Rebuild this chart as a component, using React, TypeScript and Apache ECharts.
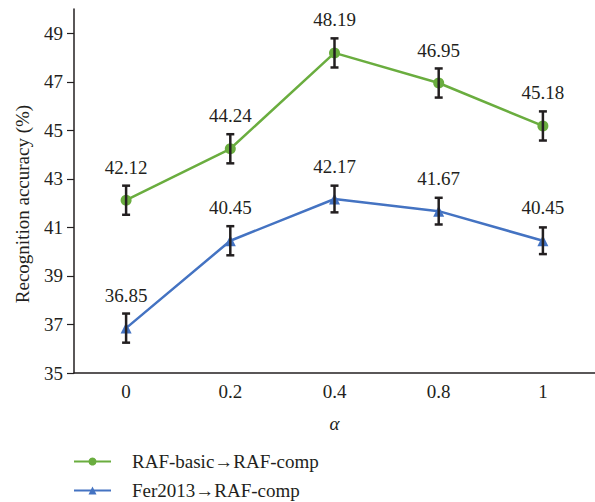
import React, { useEffect, useRef } from "react";
import * as echarts from "echarts";

const categories = ["0", "0.2", "0.4", "0.8", "1"];
const rafBasic = [42.12, 44.24, 48.19, 46.95, 45.18];
const fer2013 = [36.85, 40.45, 42.17, 41.67, 40.45];
const rafBasicErr = [0.6, 0.6, 0.6, 0.6, 0.6];
const fer2013Err = [0.6, 0.6, 0.55, 0.55, 0.55];
const yTicks = [35, 37, 39, 41, 43, 45, 47, 49];
const seriesNames = ["RAF-basic→RAF-comp", "Fer2013→RAF-comp"];
const yTitle = "Recognition accuracy (%)";

const TXT = "#231f20";
const FONT = "'Liberation Serif', serif";

function errData(vals: number[], errs: number[]) {
  return vals.map((v, i) => [i, v - errs[i], v + errs[i]]);
}

function renderErr(params: any, api: any) {
  const x = api.value(0);
  const lo = api.coord([x, api.value(1)]);
  const hi = api.coord([x, api.value(2)]);
  const w = 4;
  const style = { stroke: TXT, lineWidth: 2.5 };
  return {
    type: "group",
    children: [
      { type: "line", shape: { x1: lo[0], y1: lo[1], x2: hi[0], y2: hi[1] }, style },
      { type: "line", shape: { x1: lo[0] - w, y1: lo[1], x2: lo[0] + w, y2: lo[1] }, style },
      { type: "line", shape: { x1: hi[0] - w, y1: hi[1], x2: hi[0] + w, y2: hi[1] }, style },
    ],
  };
}

export default function App() {
  const ref = useRef<HTMLDivElement>(null);
  useEffect(() => {
    const chart = echarts.init(ref.current!, null, { renderer: "svg" });
    const label = {
      show: true,
      position: "top",
      distance: 18,
      color: TXT,
      fontFamily: FONT,
      fontSize: 19,
    };
    chart.setOption({
      animation: false,
      textStyle: { fontFamily: FONT, color: TXT },
      grid: { left: 74, top: 9, right: -7, bottom: 129 },
      graphic: [
        {
          type: "text",
          x: 22,
          y: 204,
          rotation: Math.PI / 2,
          style: {
            text: yTitle,
            fill: TXT,
            font: "19px 'Liberation Serif', serif",
            align: "center",
            verticalAlign: "middle",
          },
        },
      ],
      xAxis: [
        {
          type: "category",
          data: categories,
          boundaryGap: true,
          name: "α",
          nameLocation: "middle",
          nameGap: 41,
          nameTextStyle: { fontFamily: FONT, fontStyle: "italic", fontSize: 19, color: TXT },
          axisLine: { lineStyle: { color: TXT, width: 1.5 } },
          axisTick: { inside: true, length: 7, lineStyle: { color: TXT, width: 1.2 } },
          axisLabel: { color: TXT, fontFamily: FONT, fontSize: 19, margin: 9 },
          splitLine: { show: false },
        },
        {
          type: "category",
          data: categories,
          boundaryGap: true,
          position: "bottom",
          axisLine: { show: false },
          axisTick: { inside: true, length: 7, alignWithLabel: true, lineStyle: { color: TXT, width: 1.2 } },
          axisLabel: { show: false },
          splitLine: { show: false },
        },
      ],
      yAxis: {
        type: "value",
        min: 35,
        max: 50,
        interval: 1,
        axisLine: { show: true, lineStyle: { color: TXT, width: 1.5 } },
        axisTick: { show: true, length: 7, customValues: yTicks, lineStyle: { color: TXT, width: 1.2 } },
        axisLabel: { color: TXT, fontFamily: FONT, fontSize: 19, margin: 11, customValues: yTicks },
        splitLine: { show: false },
      },
      legend: {
        orient: "vertical",
        left: 73,
        top: 452,
        height: 50,
        padding: 0,
        itemWidth: 37,
        itemHeight: 10,
        itemGap: 10,
        data: seriesNames,
        textStyle: { fontFamily: FONT, fontSize: 19, lineHeight: 19, color: TXT, padding: [0, 0, 0, 16] },
      },
      series: [
        {
          name: seriesNames[0],
          type: "line",
          data: rafBasic,
          symbol: "circle",
          symbolSize: 11,
          lineStyle: { color: "#6aad3f", width: 2.5 },
          itemStyle: { color: "#6aad3f" },
          label,
          z: 3,
        },
        {
          name: seriesNames[1],
          type: "line",
          data: fer2013,
          symbol: "triangle",
          symbolSize: 11,
          lineStyle: { color: "#4473c2", width: 2.5 },
          itemStyle: { color: "#4473c2" },
          label,
          z: 3,
        },
        {
          type: "custom",
          renderItem: renderErr,
          data: errData(rafBasic, rafBasicErr),
          encode: { x: 0, y: [1, 2] },
          z: 4,
          silent: true,
        },
        {
          type: "custom",
          renderItem: renderErr,
          data: errData(fer2013, fer2013Err),
          encode: { x: 0, y: [1, 2] },
          z: 4,
          silent: true,
        },
      ],
    });
    return () => chart.dispose();
  }, []);
  return <div ref={ref} style={{ width: 595, height: 502, position: "absolute", left: 0, top: 0 }} />;
}
